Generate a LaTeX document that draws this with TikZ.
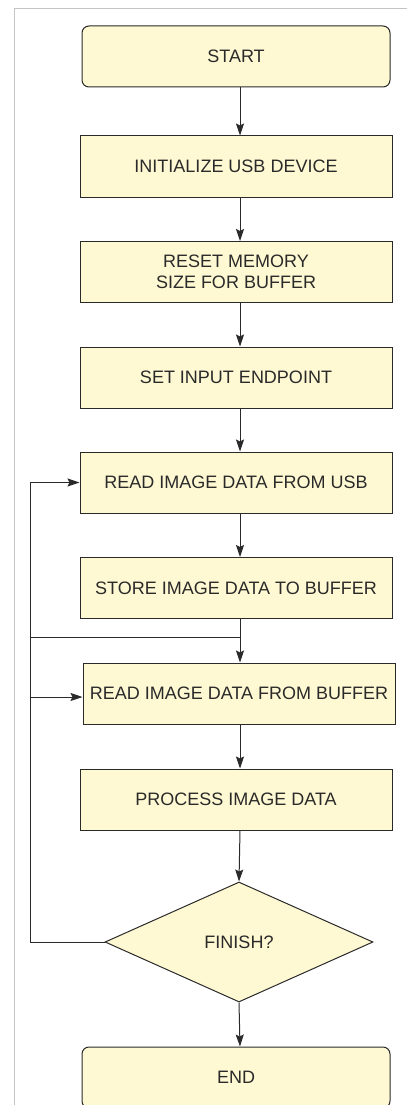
\documentclass[tikz,border=0pt]{standalone}
\usepackage{fontspec}
\setmainfont{Liberation Sans}
\usetikzlibrary{shapes.geometric,arrows.meta}
\definecolor{boxfill}{HTML}{FFF9D3}
\definecolor{ink}{HTML}{2A2A2A}
\definecolor{framegray}{HTML}{C4C4C4}
\tikzset{
  stepbox/.style={draw=ink, line width=1pt, fill=boxfill, rectangle,
    minimum width=312pt, minimum height=61pt, inner sep=0pt,
    align=center, text=ink, font=\fontsize{18}{20.7}\selectfont},
  termbox/.style={stepbox, rounded corners=7pt, minimum width=308pt},
  decide/.style={draw=ink, line width=1pt, fill=boxfill, diamond,
    minimum width=268pt, minimum height=120pt, inner sep=0pt,
    text=ink, font=\fontsize{18}{20.7}\selectfont},
  flow/.style={draw=ink, line width=1pt,
    -{Stealth[length=12pt,width=8pt,inset=2pt]}},
  wire/.style={draw=ink, line width=1pt}
}
\begin{document}
\begin{tikzpicture}[x=1pt,y=-1pt]
  \useasboundingbox (0,0) rectangle (407,1105);
  \fill[white] (0,0) rectangle (407,1105);
  % page frame
  \draw[framegray, line width=1pt] (14,1105) -- (14,9) -- (407,9);

  % flow axis and loop rail
  \coordinate (axis) at (240,0);
  \coordinate (rail) at (30,0);

  \node[termbox] (start)  at (236,56.5)  {START};
  \node[stepbox] (init)   at (236,166.5) {INITIALIZE USB DEVICE};
  \node[stepbox] (reset)  at (236,272)   {RESET MEMORY\\SIZE FOR BUFFER};
  \node[stepbox] (setep)  at (236,377.5) {SET INPUT ENDPOINT};
  \node[stepbox] (rdusb)  at (236,482.5) {READ IMAGE DATA FROM USB};
  \node[stepbox] (store)  at (236,588)   {STORE IMAGE DATA TO BUFFER};
  \node[stepbox] (rdbuf)  at (239,693.5) {READ IMAGE DATA FROM BUFFER};
  \node[stepbox] (proc)   at (236,799.5) {PROCESS IMAGE DATA};
  \node[decide]  (finish) at (239,942)   {FINISH?};
  \node[termbox] (stop)   at (236,1077.5) {END};

  % main downward flow
  \draw[flow] (start.south -| axis) -- (init.north -| axis);
  \draw[flow] (init.south -| axis)  -- (reset.north -| axis);
  \draw[flow] (reset.south -| axis) -- (setep.north -| axis);
  \draw[flow] (setep.south -| axis) -- (rdusb.north -| axis);
  \draw[flow] (rdusb.south -| axis) -- (store.north -| axis);
  \draw[flow] (store.south -| axis) -- (rdbuf.north -| axis);
  \draw[flow] (rdbuf.south -| axis) -- (proc.north -| axis);
  \draw[flow] (proc.south -| axis)  -- (finish.north);
  \draw[flow] (finish.south) -- (stop.north -| axis);

  % loop back from the decision
  \coordinate (join) at (240,637);
  \draw[wire] (finish.west) -| (rail |- rdusb.west);
  \draw[flow] (rail |- rdusb.west) -- (rdusb.west);
  \draw[wire] (join) -- (rail |- join);
  \draw[flow] (rail |- 0,697) -- (rdbuf.west |- 0,697);
\end{tikzpicture}
\end{document}
